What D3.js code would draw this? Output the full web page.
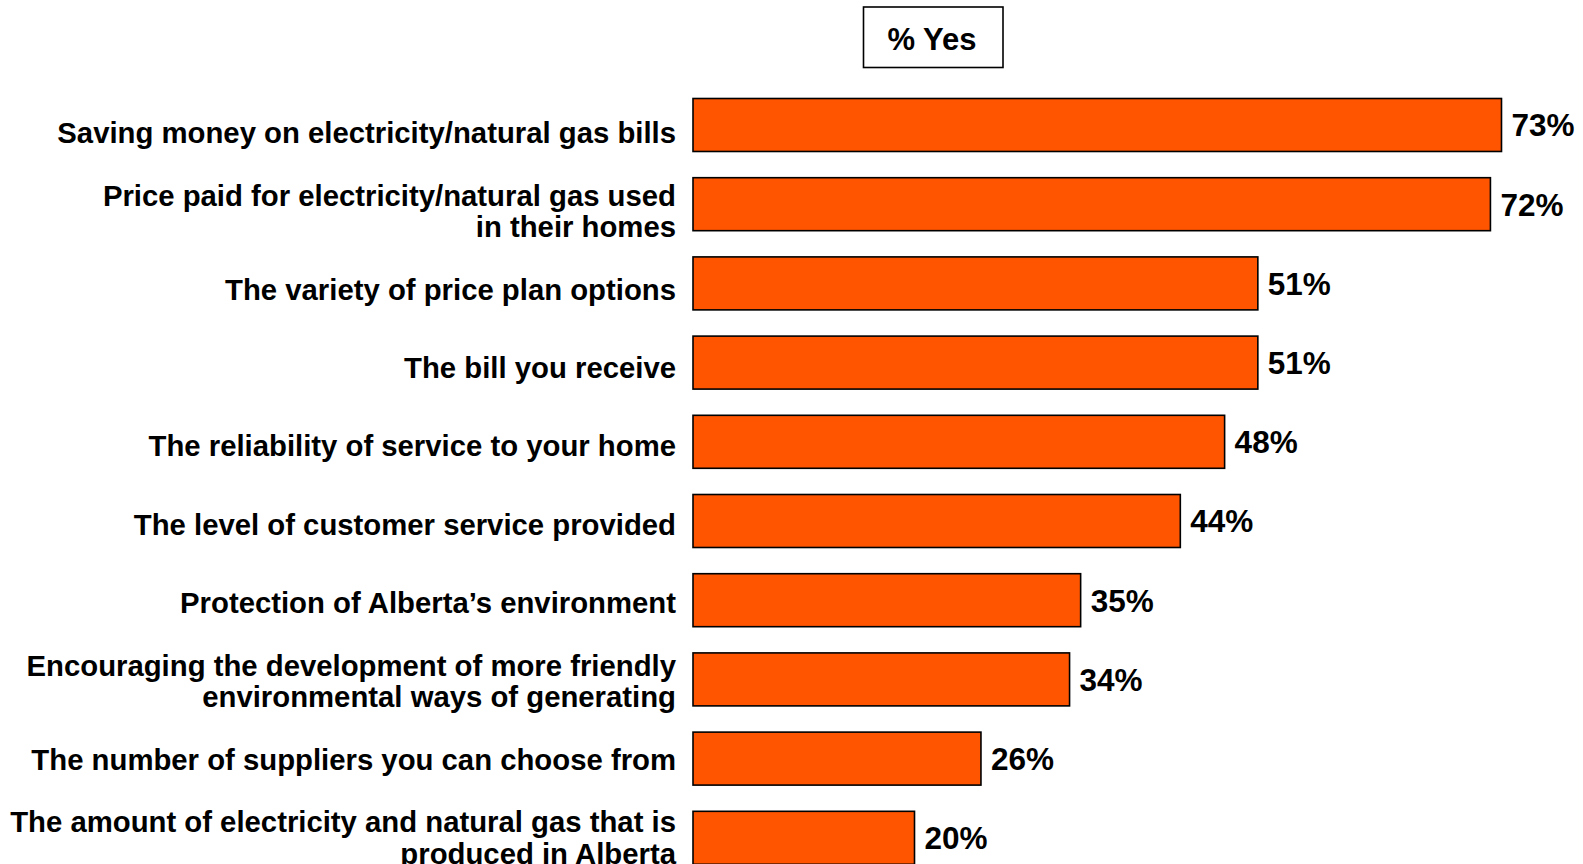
<!DOCTYPE html>
<html>
<head>
<meta charset="utf-8">
<script src="https://cdn.jsdelivr.net/npm/d3@7"></script>
<style>
  html, body { margin: 0; padding: 0; background: #ffffff; }
  svg { display: block; }
</style>
</head>
<body>
<svg id="chart" width="1583" height="864"></svg>
<script>
// Survey items (line breaks mark where long labels wrap)
const categories = [
  "Saving money on electricity/natural gas bills",
  "Price paid for electricity/natural gas used\nin their homes",
  "The variety of price plan options",
  "The bill you receive",
  "The reliability of service to your home",
  "The level of customer service provided",
  "Protection of Alberta\u2019s environment",
  "Encouraging the development of more friendly\nenvironmental ways of generating",
  "The number of suppliers you can choose from",
  "The amount of electricity and natural gas that is\nproduced in Alberta"
];
const values = [73, 72, 51, 51, 48, 44, 35, 34, 26, 20];
const legendLabel = "% Yes";

const svg = d3.select("#chart");
const font = "'Liberation Sans', Arial, Helvetica, sans-serif";

const x = d3.scaleLinear().domain([0, 73]).range([693, 1501.5]);
const y = d3.scaleBand()
  .domain(categories)
  .range([98.5, 864.3])
  .paddingInner(0.331)
  .paddingOuter(0);
// Category text sits on its own, slightly tighter, vertical grid
const yLabel = d3.scalePoint()
  .domain(categories)
  .range([132.3, 837.5]);

// Bars
svg.append("g").selectAll("rect")
  .data(values)
  .join("rect")
  .attr("x", x(0))
  .attr("y", (d, i) => y(categories[i]))
  .attr("width", d => x(d) - x(0))
  .attr("height", y.bandwidth())
  .attr("fill", "#FF5500")
  .attr("stroke", "#000000")
  .attr("stroke-width", 1.6);

// Value labels
svg.append("g").selectAll("text")
  .data(values)
  .join("text")
  .attr("x", d => x(d) + 10)
  .attr("y", (d, i) => y(categories[i]) + y.bandwidth() / 2)
  .attr("dy", "0.36em")
  .attr("font-family", font)
  .attr("font-weight", "bold")
  .attr("font-size", 31.5)
  .attr("fill", "#000")
  .text(d => d + "%");

// Category labels, right aligned next to the bars
const lineH = 31.3;
const labels = svg.append("g").selectAll("text")
  .data(categories)
  .join("text")
  .attr("text-anchor", "end")
  .attr("font-family", font)
  .attr("font-weight", "bold")
  .attr("font-size", 29.3)
  .attr("fill", "#000");

labels.each(function (c) {
  const lines = c.split("\n");
  const cy = yLabel(c);
  const t = d3.select(this);
  lines.forEach((ln, k) => {
    t.append("tspan")
      .attr("x", 676)
      .attr("y", cy + (k - (lines.length - 1) / 2) * lineH)
      .attr("dy", "0.36em")
      .text(ln);
  });
});

// Legend box
const lg = svg.append("g");
lg.append("rect")
  .attr("x", 863.5).attr("y", 7)
  .attr("width", 139.5).attr("height", 60.5)
  .attr("fill", "#fff")
  .attr("stroke", "#000")
  .attr("stroke-width", 1.6);
lg.append("text")
  .attr("x", 932)
  .attr("y", 50)
  .attr("text-anchor", "middle")
  .attr("font-family", font)
  .attr("font-weight", "bold")
  .attr("font-size", 31)
  .attr("fill", "#000")
  .text(legendLabel);
</script>
</body>
</html>
